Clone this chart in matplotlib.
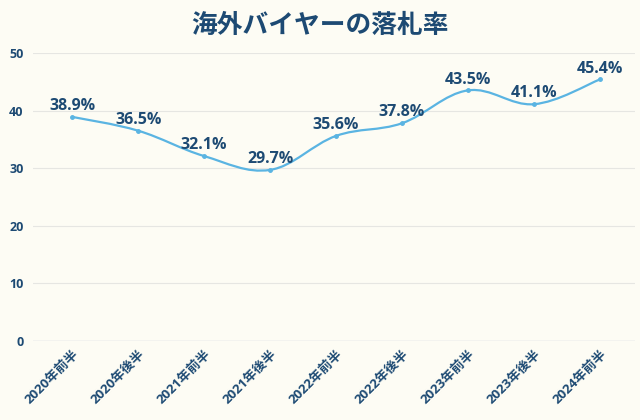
import matplotlib
matplotlib.use("Agg")
import matplotlib.pyplot as plt
from matplotlib.path import Path
from matplotlib.patches import PathPatch
import numpy as np

plt.rcParams['font.family'] = ['Open Sans', 'Noto Sans CJK JP', 'DejaVu Sans']

categories = ["2020年前半", "2020年後半", "2021年前半", "2021年後半", "2022年前半",
              "2022年後半", "2023年前半", "2023年後半", "2024年前半"]
rates = [38.9, 36.5, 32.1, 29.7, 35.6, 37.8, 43.5, 41.1, 45.4]
yticks = [0, 10, 20, 30, 40, 50]
title = "海外バイヤーの落札率"

bg = "#FDFCF4"
navy = "#1D4A73"
line_c = "#5AB4E2"

fig = plt.figure(figsize=(6.4, 4.2), dpi=100, facecolor=bg)
ax = fig.add_axes([0.052, 0.188, 0.940, 0.686], facecolor=bg)

x = np.arange(len(categories))
y = np.array(rates)

# smooth curve via cubic Bezier segments (Catmull-Rom style control points)
verts = [(x[0], y[0])]
codes = [Path.MOVETO]
t = 0.18
for i in range(len(x) - 1):
    p0 = (x[i - 1], y[i - 1]) if i > 0 else (x[i], y[i])
    p1 = (x[i], y[i])
    p2 = (x[i + 1], y[i + 1])
    p3 = (x[i + 2], y[i + 2]) if i + 2 < len(x) else (x[i + 1], y[i + 1])
    c1 = (p1[0] + (p2[0] - p0[0]) * t, p1[1] + (p2[1] - p0[1]) * t)
    c2 = (p2[0] - (p3[0] - p1[0]) * t, p2[1] - (p3[1] - p1[1]) * t)
    verts += [c1, c2, p2]
    codes += [Path.CURVE4] * 3
ax.add_patch(PathPatch(Path(verts, codes), fill=False, edgecolor=line_c, lw=1.6, zorder=3))
ax.plot(x, y, 'o', color=line_c, ms=2.5, zorder=4)

for xi, yi in zip(x, y):
    ax.annotate(f"{yi}%", (xi, yi), xytext=(0, 2), textcoords="offset points",
                ha="center", va="bottom", fontsize=11.5, fontweight="bold", color=navy)

ax.set_xlim(-0.59, 8.53)
ax.set_ylim(0, 50)
ax.set_yticks(yticks)
ax.set_yticklabels([str(v) for v in yticks], fontsize=9, fontweight="bold", color=navy)
ax.set_xticks(x)
ax.set_xticklabels(categories, rotation=45, ha="right", rotation_mode="anchor",
                   fontsize=9.5, fontweight="bold", color=navy)
ax.tick_params(axis='both', length=0)
ax.tick_params(axis='y', pad=7)
ax.tick_params(axis='x', pad=5)
ax.grid(axis='y', color="#E6E6E2", lw=0.8)
ax.set_axisbelow(True)
for s in ax.spines.values():
    s.set_visible(False)
ax.axhline(0, color="#D5D8E0", lw=1, zorder=1)

fig.text(0.5, 0.94, title, ha="center", va="center", fontsize=18.5,
         fontweight="bold", color=navy, family=['Noto Sans CJK JP'])

fig.savefig("out.png", dpi=100, facecolor=bg)
